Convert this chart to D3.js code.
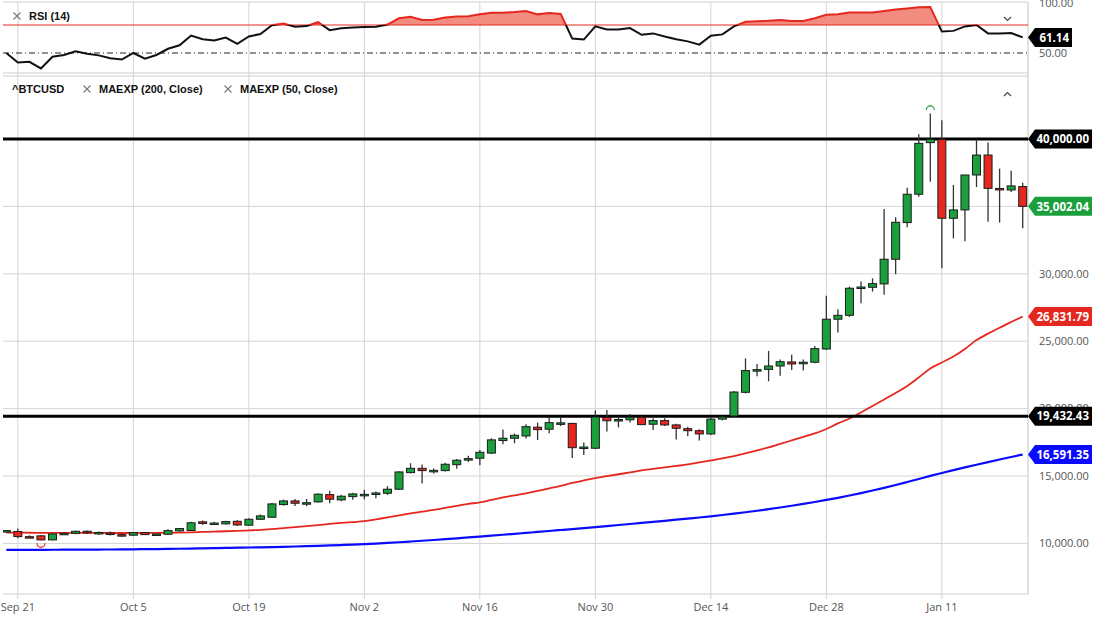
<!DOCTYPE html>
<html>
<head>
<meta charset="utf-8">
<script src="https://cdn.jsdelivr.net/npm/d3@7"></script>
<style>
body{margin:0;background:#fff;}
svg{display:block;font-family:"Open Sans",sans-serif;}
.lbl{font-family:"Liberation Sans",Arial,sans-serif;font-weight:bold;font-size:11px;fill:#111;}
</style>
</head>
<body>
<div id="chart"></div>
<script>
// daily candles, weekdays only, Sep 18 2020 .. Jan 20 2021
var opens  = [10940,10877,10500,10560,10260,10700,10750,10900,10780,10770,10650,10610,10800,10620,10680,10930,10960,11600,11480,11450,11640,11350,11790,11940,12880,13150,12980,13080,13620,13230,13470,13600,13700,13720,14020,15250,15570,15380,15400,15840,16250,16320,16700,17630,17800,17970,18620,18470,18900,18900,17100,17060,19350,19150,19170,19360,18840,19110,18790,18510,18360,18120,19220,19450,21210,22850,22910,23160,23460,23420,23440,24420,26630,26920,28980,29000,29250,31080,33800,35900,39730,39980,34120,34740,37330,38810,36330,36220,36470];
var highs  = [11000,11100,10600,10600,10730,10800,10950,10950,10880,10880,10750,10850,10830,10720,11050,11150,11600,11700,11600,11680,11720,11860,12150,13000,13250,13300,13300,13720,13900,13600,13750,13980,13850,14250,15350,15950,15850,15550,15980,16260,16500,16930,17800,18450,18150,18830,18960,19400,19350,18950,17480,19850,19900,19400,19600,19450,19280,19280,18870,18650,18460,19350,19480,21300,23730,23310,24280,23650,24000,23640,24650,28380,27370,29050,29420,29660,34800,34190,36390,40350,41900,41400,36590,37330,39980,39740,37800,37640,36760];
var lows   = [10900,10380,10430,10230,10230,10650,10680,10700,10650,10580,10500,10560,10620,10580,10620,10880,10920,11380,11400,11400,11300,11320,11750,11900,12800,12780,12760,13020,12980,13120,13230,13270,13350,13600,13970,15200,14450,15180,15330,15530,16030,15800,16630,17350,17430,17780,17670,18170,18700,16330,16560,17000,18300,18600,18970,18780,18420,18700,17700,17950,17630,18050,19130,19350,21130,22400,22030,22430,22870,22830,23370,24350,25640,26800,27820,28680,28440,29960,33450,35720,36830,30410,32630,32420,36440,33860,33800,36070,33380];
var closes = [10950,10506,10480,10260,10700,10750,10900,10780,10810,10740,10620,10800,10650,10700,10950,11100,11530,11480,11510,11620,11370,11790,12040,12930,13150,12980,13020,13650,13280,13500,13670,13640,13740,14020,15300,15570,15400,15420,15870,16170,16290,16760,17680,17800,18020,18660,18440,18960,18940,17100,17150,19380,19100,19190,19360,18810,19110,18790,18540,18360,18120,19220,19380,21230,22820,22890,23160,23480,23310,23440,24450,26630,26920,28930,29020,29270,31080,33820,35900,39680,39980,34120,34740,37330,38810,36340,36300,36520,35002.04];

var ema200 = [9516,9519,9522,9525,9528,9531,9535,9540,9544,9548,9553,9562,9572,9582,9593,9605,9619,9634,9649,9664,9680,9694,9710,9728,9748,9770,9794,9820,9848,9878,9910,9948,9990,10036,10086,10140,10196,10254,10314,10376,10440,10506,10573,10641,10710,10780,10850,10921,10993,11065,11138,11212,11287,11363,11440,11518,11597,11677,11758,11840,11923,12011,12105,12205,12311,12423,12541,12665,12795,12931,13073,13223,13383,13553,13733,13923,14123,14333,14553,14778,15008,15223,15433,15638,15838,16033,16223,16408,16591.35];
var ema50  = [10800,10795,10790,10785,10780,10778,10776,10775,10774,10773,10772,10772,10775,10780,10790,10805,10825,10850,10875,10900,10930,10965,11000,11060,11130,11210,11275,11355,11445,11520,11580,11645,11780,11930,12075,12225,12350,12480,12630,12780,12930,13040,13225,13410,13560,13705,13890,14080,14260,14485,14670,14840,14990,15130,15265,15415,15525,15635,15745,15855,16005,16155,16305,16475,16675,16895,17120,17380,17640,17900,18155,18490,18900,19270,19715,20195,20680,21160,21680,22310,22980,23425,23870,24425,25080,25560,26000,26420,26831.79];
var rsi    = [50,43.2,43.7,39,47.3,48.6,51.3,49.5,48.3,46.3,45.3,50,46,48.6,53,55.5,62.5,59.8,59,61,56.5,61.8,63.6,69.8,71,68.8,69.3,72,66.3,67.6,68.3,68.5,68.8,70.3,74.8,75.8,73.6,73.8,75.3,76,76.3,77.6,78.8,78.8,79.3,80,77.6,78.6,77.9,60.3,59.6,69,66.8,66.8,67.8,63,64,61.8,59.8,58.3,56,62.3,63.3,69,72.3,72.6,73,73.6,72.8,72.8,74.8,77.3,77.6,79,79,79,80,81,81.8,82.6,82.9,65.3,65.8,69,70,64,64,64.3,61.14];

var levels = [40000, 19432.43];
var priceTicks = [10000,15000,20000,25000,30000,35000];
var rsiTicks = [50,100];
var dateTicks = [1,11,21,31,41,51,61,71,81];
var dateLabels = ["Sep 21","Oct 5","Oct 19","Nov 2","Nov 16","Nov 30","Dec 14","Dec 28","Jan 11"];
var swingLow = 3, swingHigh = 80;

function init(){
    var w = 1100, h = 617;
    var left = 3, right = 1028;
    var green = "#1a9f3c", red = "#e5281f", blue = "#0a0aff";
    var fmt = d3.format(",.2f");
    var last = closes.length - 1;

    var svg = d3.select("#chart").append("svg")
        .attr("width", w).attr("height", h);

    var x = d3.scaleLinear().domain([0, last]).range([6.3, 1022.7]);
    var y = d3.scaleLinear().domain([10000, 40000]).range([543.4, 139]);
    var ry = d3.scaleLinear().domain([50, 70]).range([53, 25]);

    var defs = svg.append("defs");
    defs.append("clipPath").attr("id", "mainClip").append("rect")
        .attr("x", left).attr("y", 76).attr("width", right - left).attr("height", 594 - 76);
    defs.append("clipPath").attr("id", "rsiClip").append("rect")
        .attr("x", left).attr("y", 2).attr("width", right - left).attr("height", 71);
    defs.append("clipPath").attr("id", "rsiAbove").append("rect")
        .attr("x", left).attr("y", 2).attr("width", right - left).attr("height", ry(70) - 2);
    defs.append("clipPath").attr("id", "rsiBelow").append("rect")
        .attr("x", left).attr("y", ry(70)).attr("width", right - left).attr("height", 73 - ry(70));

    // vertical grid through both panels
    svg.selectAll(".vgrid").data(dateTicks).enter().append("line")
        .attr("x1", function(d){ return x(d); }).attr("x2", function(d){ return x(d); })
        .attr("y1", 2).attr("y2", 599)
        .attr("stroke", "#d4d4d4").attr("stroke-width", 1);

    // horizontal grid main panel
    svg.selectAll(".hgrid").data(priceTicks.concat([40000])).enter().append("line")
        .attr("x1", left).attr("x2", right)
        .attr("y1", function(d){ return y(d); }).attr("y2", function(d){ return y(d); })
        .attr("stroke", "#d4d4d4").attr("stroke-width", 1);

    // panel borders
    var borders = [[left, 2, right, 2], [left, 73, right, 73], [left, 76, right, 76], [left, 594, right, 594], [right, 2, right, 594]];
    svg.selectAll(".border").data(borders).enter().append("line")
        .attr("x1", function(d){ return d[0]; }).attr("y1", function(d){ return d[1]; })
        .attr("x2", function(d){ return d[2]; }).attr("y2", function(d){ return d[3]; })
        .attr("stroke", "#cfcfcf").attr("stroke-width", 1.2);

    // ---- RSI panel ----
    var rsiG = svg.append("g").attr("clip-path", "url(#rsiClip)");
    rsiG.append("line").attr("x1", left).attr("x2", right)
        .attr("y1", ry(50)).attr("y2", ry(50))
        .attr("stroke", "#222").attr("stroke-width", 1).attr("stroke-dasharray", "6,3,1,3");
    var area = d3.area().x(function(d, i){ return x(i); })
        .y0(ry(70)).y1(function(d){ return ry(d); });
    rsiG.append("path").datum(rsi).attr("d", area)
        .attr("fill", "#f28b80").attr("clip-path", "url(#rsiAbove)");
    rsiG.append("line").attr("x1", left).attr("x2", right)
        .attr("y1", ry(70)).attr("y2", ry(70))
        .attr("stroke", "#e5281f").attr("stroke-width", 1);
    var rline = d3.line().x(function(d, i){ return x(i); }).y(function(d){ return ry(d); });
    rsiG.append("path").datum(rsi).attr("d", rline)
        .attr("fill", "none").attr("stroke", "#111").attr("stroke-width", 2)
        .attr("clip-path", "url(#rsiBelow)");
    rsiG.append("path").datum(rsi).attr("d", rline)
        .attr("fill", "none").attr("stroke", red).attr("stroke-width", 2)
        .attr("clip-path", "url(#rsiAbove)");

    // ---- main panel ----
    var mainG = svg.append("g").attr("clip-path", "url(#mainClip)");
    var eline = d3.line().x(function(d, i){ return x(i); }).y(function(d){ return y(d); })
        .curve(d3.curveMonotoneX);
    mainG.append("path").datum(ema200).attr("d", eline)
        .attr("fill", "none").attr("stroke", blue).attr("stroke-width", 2.2);
    mainG.append("path").datum(ema50).attr("d", eline)
        .attr("fill", "none").attr("stroke", red).attr("stroke-width", 1.8);

    mainG.selectAll(".level").data(levels).enter().append("line")
        .attr("x1", left).attr("x2", right)
        .attr("y1", function(d){ return y(d); }).attr("y2", function(d){ return y(d); })
        .attr("stroke", "#000").attr("stroke-width", 3);

    var candles = mainG.selectAll(".candle").data(closes).enter().append("g");
    candles.append("line")
        .attr("x1", function(d, i){ return x(i); }).attr("x2", function(d, i){ return x(i); })
        .attr("y1", function(d, i){ return y(highs[i]); })
        .attr("y2", function(d, i){ return y(lows[i]); })
        .attr("stroke", "#333").attr("stroke-width", 1.3);
    candles.append("rect")
        .attr("x", function(d, i){ return x(i) - 4; })
        .attr("width", 8)
        .attr("y", function(d, i){ return y(Math.max(opens[i], d)); })
        .attr("height", function(d, i){ return Math.max(1.5, Math.abs(y(opens[i]) - y(d))); })
        .attr("fill", function(d, i){ return d >= opens[i] ? green : red; })
        .attr("stroke", "#1b1b1b").attr("stroke-width", 1);

    // swing markers
    mainG.append("path")
        .attr("d", "M" + (x(swingLow) - 4) + "," + (y(lows[swingLow]) + 3) + " a4,4 0 0 0 8,0")
        .attr("fill", "none").attr("stroke", red).attr("stroke-width", 1.2);
    mainG.append("path")
        .attr("d", "M" + (x(swingHigh) - 4) + "," + (y(highs[swingHigh]) - 3.5) + " a4,4 0 0 1 8,0")
        .attr("fill", "none").attr("stroke", green).attr("stroke-width", 1.2);

    // ---- axes labels ----
    // labels sitting right under a value badge are hidden, like the original
    var badgeY = [y(levels[0]), y(closes[last]), y(ema50[last]), y(levels[1]), y(ema200[last])];
    var shownTicks = priceTicks.filter(function(d){
        return badgeY.every(function(b){ return Math.abs(b - y(d)) > 5; });
    });
    svg.selectAll(".ylab").data(shownTicks).enter().append("text")
        .attr("x", 1039).attr("y", function(d){ return y(d); }).attr("dy", "0.35em")
        .attr("font-size", 11).attr("fill", "#555")
        .text(function(d){ return fmt(d); });
    svg.selectAll(".rlab").data(rsiTicks).enter().append("text")
        .attr("x", 1039).attr("y", function(d){ return Math.max(ry(d), 3); }).attr("dy", "0.35em")
        .attr("font-size", 11).attr("fill", "#555")
        .text(function(d){ return fmt(d); });
    svg.selectAll(".xlab").data(dateTicks).enter().append("text")
        .attr("x", function(d){ return x(d); }).attr("y", 607).attr("dy", "0.35em")
        .attr("text-anchor", "middle").attr("font-size", 11).attr("fill", "#555")
        .text(function(d, i){ return dateLabels[i]; });

    // value badges
    function badge(yy, txt, col, x1){
        var g = svg.append("g");
        g.append("path")
            .attr("d", "M" + right + "," + yy + " L" + (right + 7) + "," + (yy - 9.5) +
                  " L" + x1 + "," + (yy - 9.5) + " L" + x1 + "," + (yy + 9.5) +
                  " L" + (right + 7) + "," + (yy + 9.5) + " Z")
            .attr("fill", col);
        g.append("text").attr("x", x1 - 3).attr("y", yy).attr("dy", "0.36em")
            .attr("text-anchor", "end").attr("font-size", 11.5).attr("font-weight", "bold")
            .attr("fill", "#fff").text(txt);
    }
    badge(y(levels[0]), fmt(levels[0]), "#000", 1092);
    badge(y(closes[last]), fmt(closes[last]), green, 1092);
    badge(y(ema50[last]), fmt(ema50[last]), red, 1092);
    badge(y(levels[1]), fmt(levels[1]), "#000", 1092);
    badge(y(ema200[last]), fmt(ema200[last]), blue, 1092);
    badge(ry(rsi[last]), fmt(rsi[last]), "#000", 1072);

    // ---- legends ----
    function cross(cx, cy){
        svg.append("path")
            .attr("d", "M" + (cx - 3.5) + "," + (cy - 3.5) + " L" + (cx + 3.5) + "," + (cy + 3.5) +
                  " M" + (cx + 3.5) + "," + (cy - 3.5) + " L" + (cx - 3.5) + "," + (cy + 3.5))
            .attr("stroke", "#777").attr("stroke-width", 1.1);
    }
    cross(17, 16);
    svg.append("text").attr("class", "lbl").attr("x", 29).attr("y", 20).text("RSI (14)");
    svg.append("text").attr("class", "lbl").attr("x", 12).attr("y", 93).text("^BTCUSD");
    cross(87, 89);
    svg.append("text").attr("class", "lbl").attr("x", 99).attr("y", 93).text("MAEXP (200, Close)");
    cross(228, 89);
    svg.append("text").attr("class", "lbl").attr("x", 240).attr("y", 93).text("MAEXP (50, Close)");

    // collapse chevrons
    svg.append("path").attr("d", "M1004,17 L1007.5,20.5 L1011,17")
        .attr("fill", "none").attr("stroke", "#444").attr("stroke-width", 1.2);
    svg.append("path").attr("d", "M1004,96 L1007.5,92.5 L1011,96")
        .attr("fill", "none").attr("stroke", "#444").attr("stroke-width", 1.2);
}
window.onload = init;
</script>
</body>
</html>
